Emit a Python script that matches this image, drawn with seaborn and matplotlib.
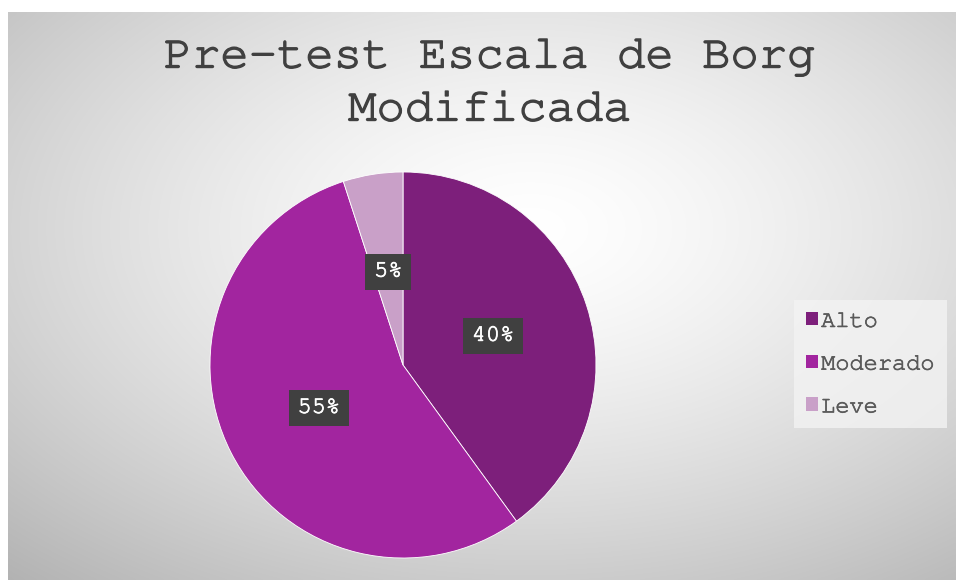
import numpy as np
import matplotlib
matplotlib.use("Agg")
import matplotlib.pyplot as plt
from matplotlib.patches import Patch
import matplotlib.patheffects as pe
import seaborn as sns
import logging
logging.getLogger("matplotlib.font_manager").setLevel(logging.ERROR)

# ---- data ----
categories = ["Alto", "Moderado", "Leve"]
values = [40, 55, 5]
colors = ["#7D1F7B", "#A2259F", "#C9A0C8"]

sns.set_theme(style="white")
plt.rcParams["font.family"] = ["Courier New", "Nimbus Mono PS", "FreeMono",
                               "Liberation Mono", "DejaVu Sans Mono"]

W, H = 956, 580
fig = plt.figure(figsize=(W / 100, H / 100), dpi=100)
fig.patch.set_facecolor("white")

# background gradient (chart area)
x0, y0 = 8, 12
bg = fig.add_axes([x0 / W, 0, (W - x0) / W, (H - y0) / H])
gh, gw = 284, 474
yy, xx = np.mgrid[0:gh, 0:gw]
cx, cy = gw * 0.55, gh * 0.38
r = np.sqrt(((xx - cx) / gw) ** 2 + ((yy - cy) / gh) ** 2)
r = r / r.max()
val = 1.0 - 0.30 * r ** 1.4
img = np.dstack([val, val, val])
bg.imshow(img, aspect="auto", extent=[0, 1, 0, 1], interpolation="bicubic")
bg.set_axis_off()

# pie
cxp, cyp, rad = 403, 365, 193
ax = fig.add_axes([(cxp - rad) / W, (H - cyp - rad) / H, 2 * rad / W, 2 * rad / H])
ax.set_facecolor("none")
wedges, texts, autotexts = ax.pie(
    values,
    colors=colors,
    startangle=90,
    counterclock=False,
    autopct="%d%%",
    pctdistance=0.49,
    radius=1.0,
    wedgeprops=dict(edgecolor="white", linewidth=0.6),
    textprops=dict(color="white", fontsize=17),
)
for t in autotexts:
    t.set_bbox(dict(boxstyle="square,pad=0.38", facecolor="#404040", edgecolor="none"))
    t.set_path_effects([pe.withStroke(linewidth=0.6, foreground="white")])
ax.set_xlim(-1, 1)
ax.set_ylim(-1, 1)
ax.set_aspect("equal")
ax.set_axis_off()

# title
title_fx = [pe.withStroke(linewidth=1.0, foreground="#404040")]
fig.text(490 / W, 1 - 58 / H, "Pre-test Escala de Borg", ha="center", va="center",
         fontsize=34, color="#404040", path_effects=title_fx)
fig.text(490 / W, 1 - 111 / H, "Modificada", ha="center", va="center",
         fontsize=34, color="#404040", path_effects=title_fx)

# legend
handles = [Patch(facecolor=c, edgecolor="none") for c in colors]
leg = fig.legend(handles, categories, loc="upper left",
                 bbox_to_anchor=(794 / W, 1 - 300 / H), bbox_transform=fig.transFigure,
                 frameon=True, handlelength=0.5, handleheight=0.5,
                 prop=dict(size=17),
                 handletextpad=0.15, labelspacing=1.0, borderpad=0.5,
                 borderaxespad=0)
leg.get_frame().set_facecolor("#f3f3f3")
leg.get_frame().set_edgecolor("none")
leg.get_frame().set_boxstyle("square", pad=0)
for t in leg.get_texts():
    t.set_color("#595959")
    t.set_path_effects([pe.withStroke(linewidth=0.5, foreground="#595959")])

fig.savefig("out.png", dpi=100)
